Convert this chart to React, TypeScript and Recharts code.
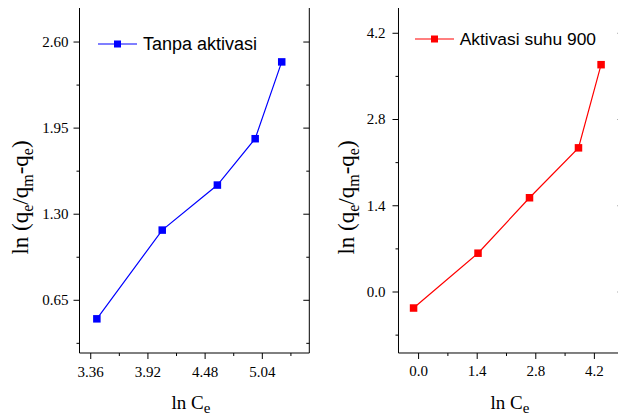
import React from 'react';
import { LineChart, Line, XAxis, YAxis, Legend, Label } from 'recharts';

// ln Ce vs ln(qe/(qm-qe)) for the two adsorbents
const tanpaLnCe = [3.42, 4.06, 4.6, 4.97, 5.23];
const tanpaLnQ = [0.51, 1.18, 1.52, 1.87, 2.45];
const suhuLnCe = [-0.12, 1.42, 2.65, 3.82, 4.36];
const suhuLnQ = [-0.26, 0.63, 1.53, 2.34, 3.69];

const tanpaName = 'Tanpa aktivasi';
const suhuName = 'Aktivasi suhu 900';

// tick values (major carry labels, minor are unlabeled)
const leftXMajor = [3.36, 3.92, 4.48, 5.04];
const leftXMinor = [3.64, 4.2, 4.76, 5.32];
const leftYMajor = [0.65, 1.3, 1.95, 2.6];
const leftYMinor = [0.325, 0.975, 1.625, 2.275];
const rightXMajor = [0.0, 1.4, 2.8, 4.2];
const rightXMinor = [0.7, 2.1, 3.5];
const rightYMajor = [0.0, 1.4, 2.8, 4.2];
const rightYMinor = [-0.7, 0.7, 2.1, 3.5];

const leftXDomain: [number, number] = [3.25, 5.5];
const leftYDomain: [number, number] = [0.252, 2.857];
const rightXDomain: [number, number] = [-0.48, 4.9];
const rightYDomain: [number, number] = [-0.99, 4.61];

const tanpaData = tanpaLnCe.map((x, i) => ({ x, y: tanpaLnQ[i] }));
const suhuData = suhuLnCe.map((x, i) => ({ x, y: suhuLnQ[i] }));

const SERIF = '"Liberation Serif", "Times New Roman", serif';
const SANS = '"Liberation Sans", Arial, sans-serif';

const allTicks = (a: number[], b: number[]) => [...a, ...b].sort((p, q) => p - q);
const isMajor = (majors: number[], v: number) => majors.some((m) => Math.abs(m - v) < 1e-9);

type Side = 'bottom' | 'top' | 'left' | 'right';

function makeTick(side: Side, majors: number[], digits: number, labelGap = 11) {
  return (props: any) => {
    const { x, y, payload } = props;
    const v = payload.value as number;
    const major = isMajor(majors, v);
    const len = major ? 6 : 3;
    if (side === 'bottom') {
      return (
        <g>
          <line x1={x} y1={y} x2={x} y2={y + len} stroke="#000" strokeWidth={1} />
          {major && (
            <text x={x} y={y + 23.5} textAnchor="middle" fontFamily={SERIF} fontSize={15} fill="#000">
              {v.toFixed(digits)}
            </text>
          )}
        </g>
      );
    }
    if (side === 'top') {
      return <line x1={x} y1={y} x2={x} y2={y + len} stroke="#000" strokeWidth={1} />;
    }
    if (side === 'left') {
      return (
        <g>
          <line x1={x - len} y1={y} x2={x} y2={y} stroke="#000" strokeWidth={1} />
          {major && (
            <text x={x - labelGap} y={y + 4.8} textAnchor="end" fontFamily={SERIF} fontSize={15} fill="#000">
              {v.toFixed(digits)}
            </text>
          )}
        </g>
      );
    }
    return <line x1={x - len} y1={y} x2={x} y2={y} stroke="#000" strokeWidth={1} />;
  };
}

const SquareDot = (props: any) => {
  const { cx, cy, stroke, index } = props;
  if (cx == null || cy == null) return null;
  return <rect key={index} x={cx - 3.75} y={cy - 3.75} width={7.5} height={7.5} fill={stroke} />;
};

const LegendContent = (props: any) => {
  const item = props.payload && props.payload[0];
  if (!item) return null;
  return (
    <div
      style={{
        display: 'flex',
        alignItems: 'center',
        fontFamily: SANS,
        fontSize: props.fontSize,
        color: '#000',
        lineHeight: 1,
        whiteSpace: 'nowrap',
      }}
    >
      <svg width={39} height={10} style={{ marginRight: 6, display: 'block' }}>
        <line x1={0} y1={5} x2={39} y2={5} stroke={item.color} strokeWidth={1.2} />
        <rect x={16} y={1.5} width={7} height={7} fill={item.color} />
      </svg>
      <span>{item.value}</span>
    </div>
  );
};

const xTitle = (props: any) => {
  const vb = props.viewBox || { x: 0, y: 0 };
  return (
    <text x={vb.x + 92} y={vb.y + 56} fontFamily={SERIF} fontSize={19} fill="#000">
      ln C
      <tspan fontSize={15} dy={4}>
        e
      </tspan>
    </text>
  );
};

function makeYTitle(baseX: number) {
  return (props: any) => {
    const vb = props.viewBox || { x: 0, y: 0 };
    const cx = vb.x + baseX;
    const cy = vb.y + 189.5;
    return (
      <text
        x={cx}
        y={cy}
        textAnchor="middle"
        transform={`rotate(-90, ${cx}, ${cy})`}
        fontFamily={SERIF}
        fontSize={23}
        fill="#000"
      >
        ln (q
        <tspan fontSize={16} dy={5}>e</tspan>
        <tspan dy={-5}>/q</tspan>
        <tspan fontSize={16} dy={5}>m</tspan>
        <tspan dy={-5}>-q</tspan>
        <tspan fontSize={16} dy={5}>e</tspan>
        <tspan dy={-5}>)</tspan>
      </text>
    );
  };
}

interface PanelProps {
  data: { x: number; y: number }[];
  name: string;
  color: string;
  width: number;
  yAxisWidth: number;
  rightWidth: number;
  xDomain: [number, number];
  yDomain: [number, number];
  xMajor: number[];
  xMinor: number[];
  yMajor: number[];
  yMinor: number[];
  digits: number;
  labelGap: number;
  yTitleX: number;
  legendLeft: number;
  legendTop: number;
  legendFont: number;
}

function Panel(p: PanelProps) {
  const xTicks = allTicks(p.xMajor, p.xMinor);
  const yTicks = allTicks(p.yMajor, p.yMinor);
  const axisLine = { stroke: '#000', strokeWidth: 1 };
  return (
    <LineChart width={p.width} height={418} data={p.data} margin={{ top: 8, right: 0, bottom: 0, left: 0 }}>
      <XAxis
        xAxisId="b"
        dataKey="x"
        type="number"
        domain={p.xDomain}
        allowDataOverflow
        ticks={xTicks}
        interval={0}
        height={65}
        tickSize={0}
        tickMargin={0}
        tickLine={false}
        axisLine={axisLine}
        tick={makeTick('bottom', p.xMajor, p.digits)}
      >
        <Label content={xTitle} />
      </XAxis>
      <XAxis
        xAxisId="t"
        orientation="top"
        dataKey="x"
        type="number"
        domain={p.xDomain}
        allowDataOverflow
        ticks={xTicks}
        interval={0}
        height={0}
        tickSize={0}
        tickMargin={0}
        tickLine={false}
        axisLine={axisLine}
        tick={makeTick('top', p.xMajor, p.digits)}
      />
      <YAxis
        yAxisId="l"
        type="number"
        domain={p.yDomain}
        allowDataOverflow
        ticks={yTicks}
        interval={0}
        width={p.yAxisWidth}
        tickSize={0}
        tickMargin={0}
        tickLine={false}
        axisLine={axisLine}
        tick={makeTick('left', p.yMajor, p.digits, p.labelGap)}
      >
        <Label content={makeYTitle(p.yTitleX)} />
      </YAxis>
      <YAxis
        yAxisId="r"
        orientation="right"
        type="number"
        domain={p.yDomain}
        allowDataOverflow
        ticks={yTicks}
        interval={0}
        width={p.rightWidth}
        tickSize={0}
        tickMargin={0}
        tickLine={false}
        axisLine={axisLine}
        tick={makeTick('right', p.yMajor, p.digits)}
      />
      <Legend
        verticalAlign="middle"
        align="center"
        content={(lp: any) => <LegendContent {...lp} fontSize={p.legendFont} />}
        wrapperStyle={{ left: p.legendLeft, top: p.legendTop, width: 'auto', height: 'auto' }}
      />
      <Line
        xAxisId="b"
        yAxisId="l"
        dataKey="y"
        name={p.name}
        stroke={p.color}
        strokeWidth={1.2}
        dot={SquareDot}
        activeDot={false}
        isAnimationActive={false}
      />
    </LineChart>
  );
}

export default function App() {
  return (
    <div
      style={{
        position: 'absolute',
        left: 0,
        top: 0,
        width: 618,
        height: 418,
        overflow: 'hidden',
        background: '#fff',
      }}
    >
      <div style={{ position: 'absolute', left: 0, top: 0 }}>
        <Panel
          data={tanpaData}
          name={tanpaName}
          color="#0000FF"
          width={312}
          yAxisWidth={79.5}
          rightWidth={2.7}
          xDomain={leftXDomain}
          yDomain={leftYDomain}
          xMajor={leftXMajor}
          xMinor={leftXMinor}
          yMajor={leftYMajor}
          yMinor={leftYMinor}
          digits={2}
          labelGap={11}
          yTitleX={28}
          legendLeft={98}
          legendTop={34.5}
          legendFont={18}
        />
      </div>
      <div style={{ position: 'absolute', left: 312, top: 0 }}>
        <Panel
          data={suhuData}
          name={suhuName}
          color="#FF0000"
          width={314.7}
          yAxisWidth={86.5}
          rightWidth={3}
          xDomain={rightXDomain}
          yDomain={rightYDomain}
          xMajor={rightXMajor}
          xMinor={rightXMinor}
          yMajor={rightYMajor}
          yMinor={rightYMinor}
          digits={1}
          labelGap={13}
          yTitleX={42.5}
          legendLeft={102.7}
          legendTop={30.7}
          legendFont={17.4}
        />
      </div>
    </div>
  );
}
